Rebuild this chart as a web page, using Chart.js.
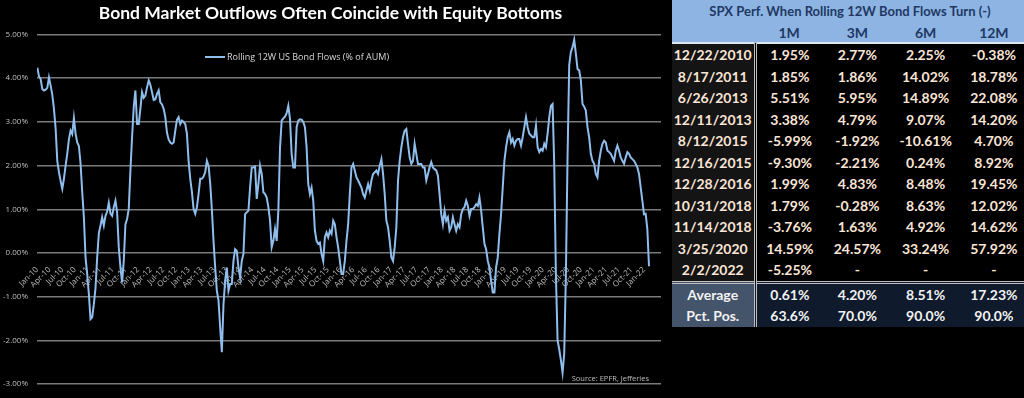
<!DOCTYPE html>
<html>
<head>
<meta charset="utf-8">
<title>Bond Market Outflows</title>
<script src="https://cdn.jsdelivr.net/npm/chart.js@4.4.1/dist/chart.umd.min.js"></script>
<style>
  html, body { margin: 0; padding: 0; background: #000; }
  body { width: 1024px; height: 398px; position: relative; overflow: hidden; font-family: Lato, "Open Sans", sans-serif; }
  #flowChart { position: absolute; left: 0; top: 0; }
  #perfTable { position: absolute; left: 672px; top: 0; width: 356px; border-collapse: collapse; table-layout: fixed; font-weight: bold; font-size: 14px; }
  #perfTable td, #perfTable th { padding: 0; text-align: center; white-space: nowrap; }
  #perfTable thead th { background: #8db4e2; color: #1f3864; }
  #perfTable thead tr.title th { height: 22px; font-size: 13px; }
  #perfTable thead tr.cols th { height: 20px; border-bottom: 2px solid #dce6f1; }
  #perfTable tbody td { height: 21.5px; color: #fbe5d6; }
  #perfTable td.date { background: #141414; border-right: 3px double #bfbfbf; }
  #perfTable tfoot td { height: 21.5px; background: #0f1b2d; color: #f2f2f2; }
  #perfTable tfoot td.date { background: #44546a; }
  #perfTable tfoot tr:first-child td { border-top: 3px double #bfbfbf; }
</style>
</head>
<body>
<canvas id="flowChart" width="670" height="398"></canvas>
<table id="perfTable">
  <colgroup><col style="width:83px"><col><col><col><col></colgroup>
  <thead></thead>
  <tbody></tbody>
  <tfoot></tfoot>
</table>
<script>
// Titres et libellés
const chartTitle = 'Bond Market Outflows Often Coincide with Equity Bottoms';
const seriesLabel = 'Rolling 12W US Bond Flows (% of AUM)';
const sourceNote = 'Source: EPFR, Jefferies';

// Libellés trimestriels de l'axe X
const tickLabels = [
  'Jan-10', 'Apr-10', 'Jul-10', 'Oct-10', 'Jan-11', 'Apr-11', 'Jul-11', 'Oct-11',
  'Jan-12', 'Apr-12', 'Jul-12', 'Oct-12', 'Jan-13', 'Apr-13', 'Jul-13', 'Oct-13',
  'Jan-14', 'Apr-14', 'Jul-14', 'Oct-14', 'Jan-15', 'Apr-15', 'Jul-15', 'Oct-15',
  'Jan-16', 'Apr-16', 'Jul-16', 'Oct-16', 'Jan-17', 'Apr-17', 'Jul-17', 'Oct-17',
  'Jan-18', 'Apr-18', 'Jul-18', 'Oct-18', 'Jan-19', 'Apr-19', 'Jul-19', 'Oct-19',
  'Jan-20', 'Apr-20', 'Jul-20', 'Oct-20', 'Jan-21', 'Apr-21', 'Jul-21', 'Oct-21',
  'Jan-22'
];

// Flux obligataires (% AUM), un point tous les 12 jours environ depuis début 2010
const firstMonth = 0.08;
const stepMonths = 12 / 30.44;
const flows = [
  // 2010 - mi-2012
  4.24, 4.04, 3.98, 3.75, 3.72, 3.74, 3.78, 4.02, 3.83, 3.62,
  3.30, 2.85, 2.11, 1.85, 1.65, 1.47, 1.70, 2.00, 2.27, 2.60,
  2.80, 2.72, 3.09, 2.73, 2.53, 2.45, 2.05, 1.40, 0.82, -0.10,
  -0.48, -0.94, -1.51, -1.47, -1.17, -0.80, -0.10, 0.45, 0.63, 0.82,
  0.63, 0.85, 0.95, 1.15, 0.90, 0.85, 1.05, 1.20, 0.93, 0.13,
  -0.33, -0.67, -0.18, 0.66, 0.78, 1.01, 1.89, 2.65, 3.34, 3.72,
  2.95, 2.95, 3.30, 3.68, 3.55, 3.60, 3.79, 3.95, 3.85, 3.68,
  3.50, 3.52, 3.64, 3.72,
  // mi-2012 - fin 2014
  3.45, 3.40, 3.30, 3.11, 2.75, 2.60, 2.53, 2.50, 2.53, 2.80,
  3.05, 3.11, 2.95, 3.03, 3.00, 2.95, 2.73, 2.11, 1.70, 1.40,
  1.01, 0.90, 1.05, 1.35, 1.70, 1.70, 1.75, 1.85, 2.11, 2.00,
  1.60, 1.00, 0.28, -0.33, -0.86, -1.09, -1.70, -2.27, -1.17, -0.63,
  -0.33, -0.86, -0.71, -0.71, -0.18, 0.09, 0.05, -0.33, -0.56, -0.18,
  -0.02, 0.89, 0.93, 0.97, 1.50, 1.96, 1.96, 1.98, 1.24, 1.58,
  2.00, 1.81, 1.39, 1.35, 1.27, 1.05, 0.74, 0.13, 0.28, 0.55,
  0.28, 0.97, 2.40,
  // fin 2014 - mi-2017
  3.03, 3.08, 3.12, 3.20, 3.37, 3.07, 2.27, 1.96, 1.96, 2.88,
  3.03, 3.06, 3.05, 3.00, 2.88, 2.42, 1.58, 1.35, 1.50, 1.20,
  0.51, 0.28, 0.21, 0.24, -0.02, -0.18, 0.36, 0.47, 0.36, 0.51,
  0.44, 0.74, 0.66, 0.36, 0.13, -0.18, -0.48, -0.48, -0.18, 0.28,
  0.66, 1.35, 1.96, 2.04, 1.89, 1.73, 1.66, 1.58, 1.50, 1.35,
  1.27, 1.43, 1.58, 1.43, 1.66, 1.81, 1.85, 1.89, 1.81, 2.00,
  2.15, 1.81, 1.35, 0.74, 0.59, 0.28, -0.10, -0.18, 0.13, 0.59,
  1.66, 2.11, 2.42,
  // mi-2017 - fin 2019
  2.65, 2.80, 2.84, 2.50, 2.19, 2.04, 2.11, 2.50, 2.27, 2.04,
  2.04, 2.04, 1.96, 1.96, 1.66, 1.81, 1.96, 2.08, 1.96, 1.92,
  1.89, 1.77, 1.35, 0.89, 0.66, 0.97, 0.74, 0.82, 0.51, 0.59,
  0.82, 0.66, 0.51, 0.66, 0.59, 0.89, 1.01, 1.05, 1.20, 1.08,
  0.85, 1.01, 1.01, 1.05, 1.12, 1.08, 1.27, 0.97, 0.59, 0.21,
  0.09, -0.18, -0.33, -0.63, -0.90, -0.90, -0.33, -0.10, 0.44, 0.89,
  1.50, 2.11, 2.42, 2.65, 2.76, 2.53, 2.61, 2.46, 2.57, 2.61,
  2.61, 2.46, 2.65,
  // fin 2019 - début 2022
  2.88, 3.11, 2.88, 2.73, 2.69, 2.65, 2.65, 2.92, 2.42, 2.31,
  2.38, 2.34, 2.50, 2.42, 2.73, 3.11, 3.37, 3.41, 2.00, -0.50,
  -2.00, -2.20, -2.45, -2.74, -2.30, -0.50, 2.20, 4.30, 4.60, 4.71,
  4.88, 4.56, 4.21, 4.18, 3.95, 3.41, 3.35, 3.26, 2.88, 2.65,
  2.27, 2.11, 2.04, 1.81, 1.73, 2.11, 2.34, 2.50, 2.57, 2.53,
  2.34, 2.31, 2.27, 2.19, 2.11, 2.34, 2.46, 2.34, 2.19, 2.11,
  2.04, 2.19, 2.31, 2.27, 2.19, 2.15, 2.11, 2.04, 1.96, 1.81,
  1.50, 1.20, 0.89, 0.90, 0.55, -0.30
];

// Tableau de performance du SPX
const tableTitle = 'SPX Perf. When Rolling 12W Bond Flows Turn (-)';
const horizons = ['1M', '3M', '6M', '12M'];
const eventDates = ['12/22/2010', '8/17/2011', '6/26/2013', '12/11/2013', '8/12/2015', '12/16/2015',
                    '12/28/2016', '10/31/2018', '11/14/2018', '3/25/2020', '2/2/2022'];
const perf1M  = ['1.95%', '1.85%', '5.51%', '3.38%', '-5.99%', '-9.30%', '1.99%', '1.79%', '-3.76%', '14.59%', '-5.25%'];
const perf3M  = ['2.77%', '1.86%', '5.95%', '4.79%', '-1.92%', '-2.21%', '4.83%', '-0.28%', '1.63%', '24.57%', '-'];
const perf6M  = ['2.25%', '14.02%', '14.89%', '9.07%', '-10.61%', '0.24%', '8.48%', '8.63%', '4.92%', '33.24%', '-'];
const perf12M = ['-0.38%', '18.78%', '22.08%', '14.20%', '4.70%', '8.92%', '19.45%', '12.02%', '14.62%', '57.92%', '-'];
const summaryLabels = ['Average', 'Pct. Pos.'];
const summaryValues = [
  ['0.61%', '4.20%', '8.51%', '17.23%'],
  ['63.6%', '70.0%', '90.0%', '90.0%']
];

// Construire le tableau
function buildTable() {
  const table = document.getElementById('perfTable');
  const head = table.querySelector('thead');
  head.innerHTML = '<tr class="title"><th colspan="5">' + tableTitle + '</th></tr>' +
    '<tr class="cols"><th></th>' + horizons.map(h => '<th>' + h + '</th>').join('') + '</tr>';

  const body = table.querySelector('tbody');
  eventDates.forEach((d, i) => {
    const tr = document.createElement('tr');
    tr.innerHTML = '<td class="date">' + d + '</td><td>' + perf1M[i] + '</td><td>' + perf3M[i] +
      '</td><td>' + perf6M[i] + '</td><td>' + perf12M[i] + '</td>';
    body.appendChild(tr);
  });

  const foot = table.querySelector('tfoot');
  summaryLabels.forEach((label, i) => {
    const tr = document.createElement('tr');
    tr.innerHTML = '<td class="date">' + label + '</td>' + summaryValues[i].map(v => '<td>' + v + '</td>').join('');
    foot.appendChild(tr);
  });
}

// Légende et source dessinées dans la zone du graphique
const inlineLegend = {
  id: 'inlineLegend',
  afterDatasetsDraw(chart) {
    const { ctx, chartArea } = chart;
    const ds = chart.data.datasets[0];
    const x = chartArea.left + 168;
    const y = chartArea.top + 22.5;
    ctx.save();
    ctx.strokeStyle = ds.borderColor;
    ctx.lineWidth = 2;
    ctx.beginPath();
    ctx.moveTo(x, y);
    ctx.lineTo(x + 20, y);
    ctx.stroke();
    ctx.fillStyle = '#d9d9d9';
    ctx.font = '9px "Open Sans"';
    ctx.textBaseline = 'middle';
    ctx.fillText(ds.label, x + 22, y);

    ctx.textAlign = 'right';
    ctx.fillStyle = '#bfbfbf';
    ctx.font = '7.5px "Open Sans"';
    ctx.fillText(sourceNote, chartArea.right - 12, chartArea.bottom - 5);
    ctx.restore();
  }
};

function initChart() {
  const points = flows.map((v, i) => ({ x: firstMonth + i * stepMonths, y: v }));
  new Chart(document.getElementById('flowChart'), {
    type: 'line',
    data: {
      datasets: [{
        label: seriesLabel,
        data: points,
        borderColor: '#8fbdec',
        borderWidth: 2,
        pointRadius: 0,
        tension: 0,
        fill: false
      }]
    },
    options: {
      responsive: false,
      animation: false,
      devicePixelRatio: 1,
      layout: { padding: { left: 0, right: 9, top: 0, bottom: 13 } },
      plugins: {
        legend: { display: false },
        tooltip: { enabled: false },
        title: {
          display: true,
          text: chartTitle,
          color: '#ffffff',
          font: { family: 'Lato', size: 17.5, weight: 'bold' },
          padding: { top: 3, bottom: 10.5 }
        }
      },
      scales: {
        x: {
          type: 'linear',
          min: 0,
          max: 148,
          position: { y: 0 },
          grid: { display: false },
          border: { display: false },
          afterBuildTicks: scale => {
            scale.ticks = tickLabels.map((_, i) => ({ value: i * 3 }));
          },
          ticks: {
            autoSkip: false,
            minRotation: 45,
            maxRotation: 45,
            padding: 4,
            color: '#bfbfbf',
            font: { family: 'Open Sans', size: 8 },
            callback: value => tickLabels[Math.round(value / 3)]
          }
        },
        y: {
          min: -3,
          max: 5,
          afterFit: scale => { scale.width = 37; },
          grid: { color: '#7a7a7a', lineWidth: 1.5, drawTicks: false },
          border: { display: false },
          ticks: {
            stepSize: 1,
            padding: 9,
            color: '#bfbfbf',
            font: { family: 'Open Sans', size: 8 },
            callback: value => value.toFixed(2) + '%'
          }
        }
      }
    },
    plugins: [inlineLegend]
  });
}

document.addEventListener('DOMContentLoaded', function() {
  buildTable();
  initChart();
});
</script>
</body>
</html>
